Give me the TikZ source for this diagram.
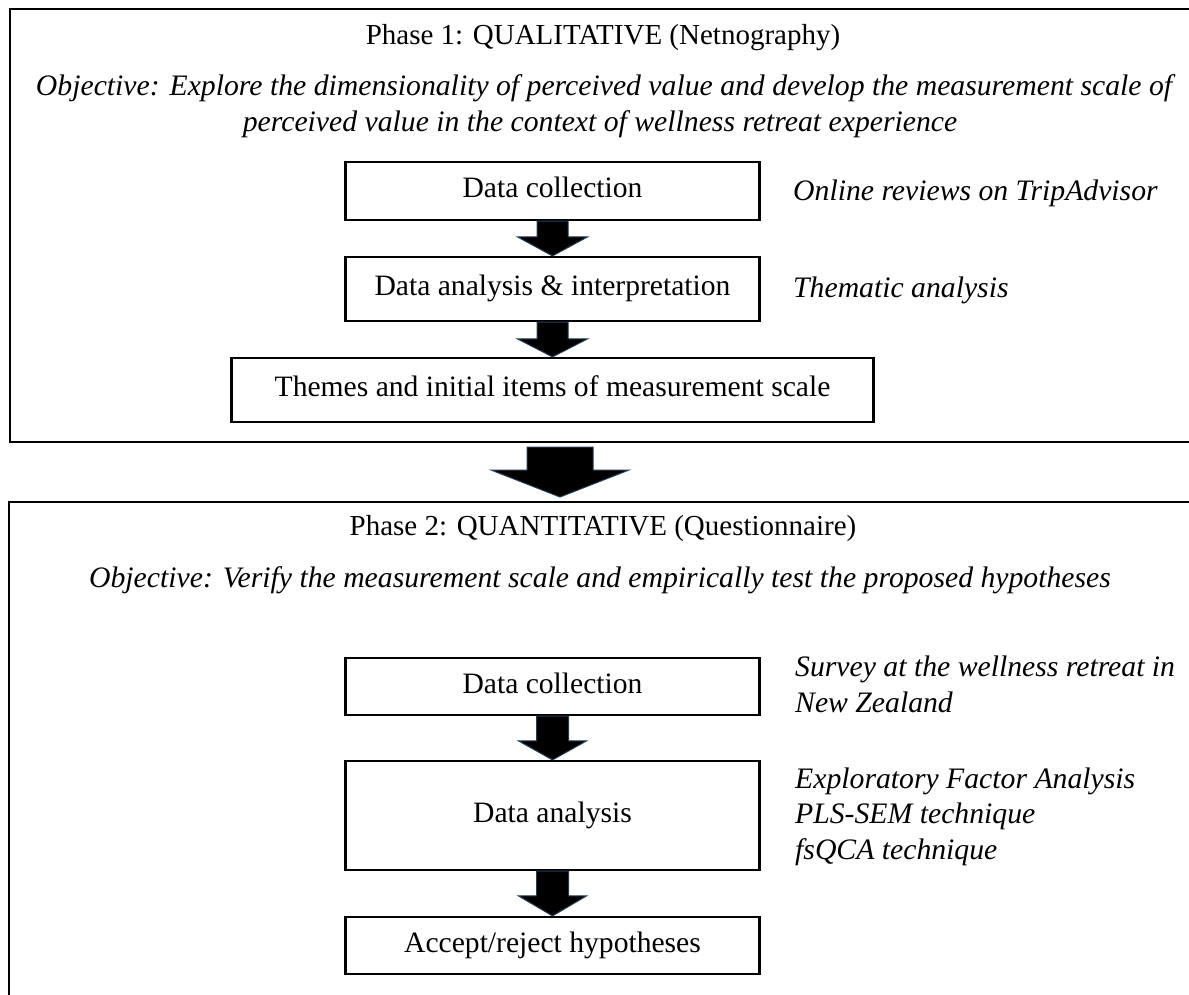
\documentclass[tikz,border=0pt]{standalone}
\usepackage{fontspec}
\setmainfont{Liberation Serif}
\usetikzlibrary{calc}
\definecolor{arrowedge}{RGB}{38,60,82}
\newlength\objwidth
% block arrow between two points: #3 half shaft width, #4 half head width, #5 head length
\newcommand\blockarr[5]{%
  \filldraw[blockarrow] let \p1=(#1), \p2=(#2) in
    (\x1-#3,\y1) -- (\x1-#3,\y2+#5) -- (\x1-#4,\y2+#5) -- (\x1,\y2)
    -- (\x1+#4,\y2+#5) -- (\x1+#3,\y2+#5) -- (\x1+#3,\y1) -- cycle;}
\begin{document}
% italic size chosen so the long objective line fills the frame
\settowidth\objwidth{\itshape\fontsize{20}{24}\selectfont Objective: Explore the dimensionality of perceived value and develop the measurement scale of}%
\pgfmathsetmacro\itsz{1136/\objwidth*20}%
\begin{tikzpicture}[x=1pt,y=-1pt]
\tikzset{
  frame/.style={line width=2.4pt},
  stepbox/.style={draw, line width=2.2pt, inner sep=0pt, fill=white,
    font=\fontsize{29.6}{34}\selectfont, text height=19.5pt, text depth=6pt},
  head/.style={font=\fontsize{29}{34}\selectfont, anchor=base, inner sep=0pt},
  objline/.style={font=\itshape\fontsize{\itsz}{36}\selectfont, anchor=base, inner sep=0pt},
  note/.style={font=\itshape\fontsize{\itsz}{36}\selectfont, anchor=base west, inner sep=0pt},
  blockarrow/.style={fill=black, draw=arrowedge, line width=1pt, line join=miter},
}
\useasboundingbox (0,0) rectangle (1189,994);
\fill[white] (0,0) rectangle (1189,994);

% ---------- Phase 1 ----------
\draw[frame] (1200,9) -- (10,9) -- (10,442) -- (1200,442);
\node[head] (t1) at (603,44) {Phase 1: QUALITATIVE (Netnography)};
\node[objline] (o1a) at (604,95) {Objective: Explore the dimensionality of perceived value and develop the measurement scale of};
\node[objline] (o1b) at (600,131) {perceived value in the context of wellness retreat experience};

\node[stepbox, minimum width=414pt, minimum height=58pt] (b1) at (552.5,191) {Data collection};
\node[stepbox, minimum width=414pt, minimum height=64pt] (b2) at (552.5,289) {Data analysis \& interpretation};
\node[stepbox, minimum width=642pt, minimum height=64pt] (b3) at (552.5,390) {Themes and initial items of measurement scale};

\node[note] (n1) at (793,200) {Online reviews on TripAdvisor};
\node[note] (n2) at (793,297) {Thematic analysis};

\blockarr{b1.south}{b2.north}{15.5pt}{35pt}{19pt}
\blockarr{b2.south}{b3.north}{15.5pt}{35pt}{18pt}

% ---------- transition between phases ----------
\coordinate (bigtop) at (560,447);
\coordinate (bigtip) at (560,497);
\blockarr{bigtop}{bigtip}{33pt}{69pt}{27pt}

% ---------- Phase 2 ----------
\draw[frame] (1200,502) -- (9,502) -- (9,1000);
\node[head] (t2) at (603,535) {Phase 2: QUANTITATIVE (Questionnaire)};
\node[objline] (o2) at (600,587) {Objective: Verify the measurement scale and empirically test the proposed hypotheses};

\node[stepbox, minimum width=414pt, minimum height=57pt] (c1) at (552.5,686.5) {Data collection};
\node[stepbox, minimum width=414pt, minimum height=109pt] (c2) at (552.5,815.5) {Data analysis};
\node[stepbox, minimum width=414pt, minimum height=57pt] (c3) at (552.5,945.5) {Accept/reject hypotheses};

\node[note] (n3) at (795,676) {Survey at the wellness retreat in};
\node[note] (n4) at (795,712) {New Zealand};
\node[note] (n5) at (795,788) {Exploratory Factor Analysis};
\node[note] (n6) at (795,823) {PLS-SEM technique};
\node[note] (n7) at (795,859) {fsQCA technique};

\blockarr{c1.south}{c2.north}{16pt}{34pt}{19pt}
\blockarr{c2.south}{c3.north}{16pt}{34pt}{20pt}
\end{tikzpicture}
\end{document}
